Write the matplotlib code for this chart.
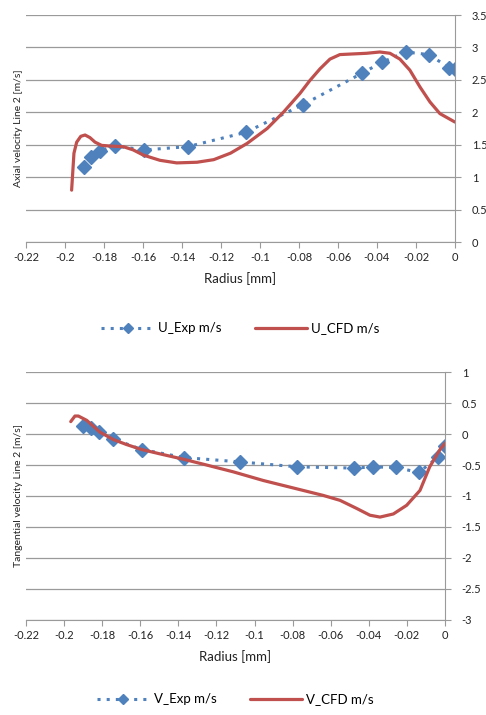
import matplotlib
matplotlib.use("Agg")
import matplotlib.pyplot as plt

# Axial velocity, experiment
u_exp_r = [-0.1905, -0.1866, -0.182, -0.1743, -0.1593, -0.1371, -0.1074, -0.0778,
           -0.0478, -0.0375, -0.0252, -0.0135, -0.0029, 0.0]
u_exp_v = [1.15, 1.31, 1.41, 1.48, 1.42, 1.47, 1.69, 2.12, 2.60, 2.77, 2.93, 2.89, 2.69, 2.67]

# Axial velocity, CFD
u_cfd_r = [-0.1966, -0.1954, -0.194, -0.1919, -0.1897, -0.1872, -0.1846, -0.1812, -0.1769,
           -0.1701, -0.165, -0.1598, -0.1513, -0.1427, -0.1323, -0.1237, -0.1151, -0.1066,
           -0.0963, -0.0877, -0.0795, -0.0744, -0.0692, -0.0641, -0.059, -0.0522, -0.0453,
           -0.0385, -0.0333, -0.0282, -0.0231, -0.0179, -0.0128, -0.0077, 0.0]
u_cfd_v = [0.80, 1.37, 1.54, 1.63, 1.65, 1.61, 1.54, 1.49, 1.48, 1.47, 1.42, 1.34, 1.26,
           1.22, 1.23, 1.27, 1.37, 1.52, 1.75, 2.01, 2.29, 2.49, 2.67, 2.82, 2.89, 2.90,
           2.91, 2.93, 2.91, 2.82, 2.65, 2.39, 2.16, 1.98, 1.85]

# Tangential velocity, experiment
v_exp_r = [-0.1899, -0.1860, -0.1817, -0.1741, -0.1593, -0.1369, -0.1076, -0.0775,
           -0.0478, -0.0376, -0.0257, -0.0137, -0.0035, 0.0]
v_exp_v = [0.13, 0.09, 0.03, -0.08, -0.25, -0.38, -0.45, -0.53, -0.55, -0.53, -0.54,
           -0.62, -0.37, -0.20]

# Tangential velocity, CFD
v_cfd_r = [-0.1965, -0.1943, -0.1925, -0.1881, -0.1812, -0.1741, -0.1672, -0.1593, -0.1497,
           -0.1369, -0.1252, -0.1112, -0.0954, -0.0797, -0.0640, -0.0551, -0.0464, -0.0394,
           -0.0341, -0.0271, -0.0201, -0.0131, -0.0080, -0.0028, 0.0]
v_cfd_v = [0.20, 0.29, 0.29, 0.22, 0.03, -0.09, -0.17, -0.25, -0.32, -0.41, -0.50, -0.61,
           -0.75, -0.87, -0.99, -1.07, -1.20, -1.31, -1.34, -1.29, -1.15, -0.91, -0.53,
           -0.26, -0.15]

x_ticks = [-0.22, -0.2, -0.18, -0.16, -0.14, -0.12, -0.1, -0.08, -0.06, -0.04, -0.02, 0]
x_labels = ["-0.22", "-0.2", "-0.18", "-0.16", "-0.14", "-0.12", "-0.1", "-0.08",
            "-0.06", "-0.04", "-0.02", "0"]

blue = "#4F81BD"
red = "#C0504D"
grid = "#9a9a9a"

plt.rcParams["font.family"] = ["Lato", "DejaVu Sans"]
fig = plt.figure(figsize=(4.86, 7.15), dpi=100)


def style_axes(ax, yticks, ylabel, legend_y):
    ax.set_xlim(-0.22, 0)
    ax.set_ylim(yticks[0], yticks[-1])
    ax.set_xticks(x_ticks)
    ax.set_xticklabels(x_labels)
    ax.set_yticks(yticks)
    ax.set_yticklabels(["%g" % t for t in yticks])
    ax.yaxis.tick_right()
    for s in ["top", "left"]:
        ax.spines[s].set_visible(False)
    ax.spines["right"].set_color(grid)
    ax.spines["bottom"].set_color(grid)
    ax.tick_params(axis="both", colors=grid, labelcolor="#222222", labelsize=8,
                   length=4, width=0.8)
    ax.tick_params(axis="y", pad=8)
    ax.grid(axis="y", color=grid, linewidth=0.9)
    ax.set_axisbelow(True)
    ax.set_ylabel(ylabel, fontsize=7.5, color="#222222", labelpad=2)
    ax.set_xlabel("Radius [mm]", fontsize=9.5, color="#222222", labelpad=6)
    ax.legend(loc="center", bbox_to_anchor=(0.5, legend_y), ncol=2, frameon=False,
              fontsize=9.5, handlelength=4, columnspacing=2.5, handletextpad=0.3,
              markerscale=0.75)


ax1 = fig.add_axes([0.0535, 0.6615, 0.8825, 0.3175])
ax1.plot(u_exp_r, u_exp_v, color=blue, linestyle=(0, (1, 2)), linewidth=2.2,
         marker="D", markersize=7, label="U_Exp m/s")
ax1.plot(u_cfd_r, u_cfd_v, color=red, linewidth=2.3, solid_joinstyle="round",
         solid_capstyle="round", label="U_CFD m/s")
style_axes(ax1, [0, 0.5, 1, 1.5, 2, 2.5, 3, 3.5], "Axial velocity Line 2 [m/s]", -0.38)

ax2 = fig.add_axes([0.0535, 0.1329, 0.862, 0.3468])
ax2.plot(v_exp_r, v_exp_v, color=blue, linestyle=(0, (1, 2)), linewidth=2.2,
         marker="D", markersize=7, label="V_Exp m/s")
ax2.plot(v_cfd_r, v_cfd_v, color=red, linewidth=2.3, solid_joinstyle="round",
         solid_capstyle="round", label="V_CFD m/s")
style_axes(ax2, [-3, -2.5, -2, -1.5, -1, -0.5, 0, 0.5, 1], "Tangential velocity Line 2 [m/s]", -0.32)

fig.savefig("out.png", dpi=100)
